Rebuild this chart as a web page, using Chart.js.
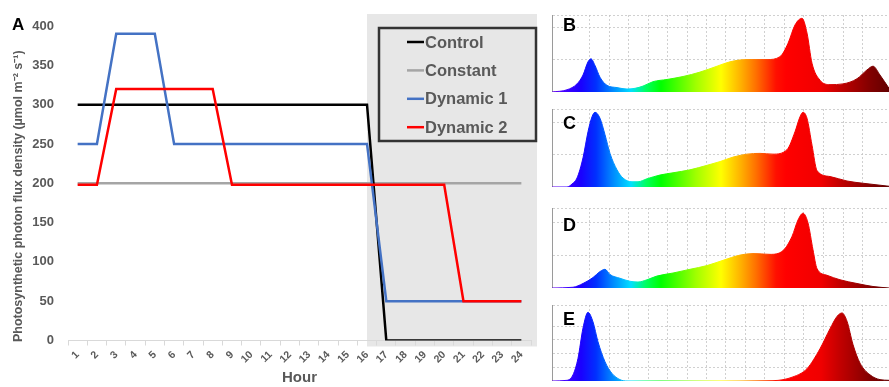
<!DOCTYPE html>
<html><head><meta charset="utf-8">
<script src="https://cdn.jsdelivr.net/npm/chart.js@4.4.0/dist/chart.umd.min.js"></script>
<style>
html,body{margin:0;padding:0;background:#fff;width:889px;height:387px;overflow:hidden;}
canvas{position:absolute;}
.lbl{position:absolute;font-family:"Liberation Sans",Arial,sans-serif;font-weight:bold;color:#000;}
</style></head><body>
<canvas id="main" width="540" height="387" style="left:0;top:0"></canvas>
<canvas id="specB" width="337" height="77" style="left:552px;top:15px"></canvas>
<canvas id="specC" width="337" height="78" style="left:552px;top:109px"></canvas>
<canvas id="specD" width="337" height="80" style="left:552px;top:208px"></canvas>
<canvas id="specE" width="337" height="76" style="left:552px;top:305px"></canvas>
<div class="lbl" style="left:12px;top:16px;font-size:17px;line-height:17px">A</div>
<div class="lbl" style="left:563px;top:16px;font-size:18px;line-height:18px">B</div>
<div class="lbl" style="left:563px;top:114px;font-size:18px;line-height:18px">C</div>
<div class="lbl" style="left:563px;top:216px;font-size:18px;line-height:18px">D</div>
<div class="lbl" style="left:563px;top:310px;font-size:18px;line-height:18px">E</div>
<script>
// ---------- Panel A data ----------
const hours = ['1','2','3','4','5','6','7','8','9','10','11','12','13','14','15','16','17','18','19','20','21','22','23','24'];
const seriesNames = ['Control','Constant','Dynamic 1','Dynamic 2'];
const control  = [300,300,300,300,300,300,300,300,300,300,300,300,300,300,300,300,0,0,0,0,0,0,0,0];
const constant = [200,200,200,200,200,200,200,200,200,200,200,200,200,200,200,200,200,200,200,200,200,200,200,200];
const dynamic1 = [250,250,390,390,390,250,250,250,250,250,250,250,250,250,250,250,50,50,50,50,50,50,50,50];
const dynamic2 = [198,198,320,320,320,320,320,320,198,198,198,198,198,198,198,198,198,198,198,198,50,50,50,50];
const yTicks = [0,50,100,150,200,250,300,350,400];
const darkPeriodStart = '16';
const yTitle = 'Photosynthetic photon flux density (µmol m⁻² s⁻¹)';

// ---------- Spectra data (wavelength nm, relative intensity) ----------
const specB_nm  = [411,426,436,442,447,450,454,459,466,476,486,494,502,512,526,542,559,576,589,606,626,639,647,654,661,666,671,679,689,702,716,726,732,739,748];
const specB_val = [0,3,11,23,41,45,36,20,9,6,4,5,8,14,17,21,27,35,41,44,44,48,66,91,100,80,39,16,10,11,18,30,35,23,5];
const specC_nm  = [411,426,431,436,442,447,451,454,459,464,469,476,482,491,497,506,519,532,549,566,579,592,606,619,632,646,654,659,662,666,671,676,689,706,722,748];
const specC_val = [0,0,4,12,39,74,94,100,92,70,45,23,12,7,7,11,16,19,23,29,34,40,44,45,44,50,74,94,100,92,56,22,14,8,5,1];
const specD_nm  = [411,432,442,452,459,464,469,479,489,497,506,516,532,549,566,582,599,612,629,642,651,657,662,667,672,676,686,699,716,732,748];
const specD_val = [0,1,6,14,22,25,18,13,9,8,11,16,20,25,30,37,44,46,45,50,69,91,100,87,51,26,17,11,6,2,0];
const specE_nm  = [411,426,432,437,442,447,452,457,464,471,479,486,566,632,652,666,679,689,696,701,706,712,719,729,739,748];
const specE_val = [0,1,9,33,77,100,86,57,28,11,2,0,0,0.5,6,18,47,76,94,99,87,53,26,9,2,1];

const FONT = '"Liberation Sans", Arial, sans-serif';
const GREY_TXT = '#595959';

const shadePlugin = {
  id: 'shade',
  beforeDraw(chart) {
    const {ctx, chartArea, scales} = chart;
    const x0 = scales.x.getPixelForValue(hours.indexOf(darkPeriodStart));
    ctx.save();
    ctx.fillStyle = '#e7e7e7';
    ctx.fillRect(x0, chartArea.top - 12, chartArea.right + 6 - x0, chartArea.bottom + 6 - (chartArea.top - 12));
    ctx.restore();
  }
};
const yTitlePlugin = {
  id: 'yTitle',
  afterDraw(chart) {
    const {ctx, chartArea} = chart;
    ctx.save();
    ctx.translate(19, (chartArea.top + chartArea.bottom) / 2 + 13);
    ctx.rotate(-Math.PI / 2);
    ctx.font = 'bold 12.5px ' + FONT;
    ctx.fillStyle = GREY_TXT;
    ctx.textAlign = 'center';
    ctx.textBaseline = 'middle';
    ctx.fillText(yTitle, 0, 0);
    ctx.restore();
  }
};
const legendPlugin = {
  id: 'boxLegend',
  afterDraw(chart) {
    const {ctx} = chart;
    const bx = 379, by = 28, bw = 157, bh = 113;
    ctx.save();
    ctx.fillStyle = '#e7e7e7';
    ctx.fillRect(bx, by, bw, bh);
    ctx.lineWidth = 2.5;
    ctx.strokeStyle = '#333';
    ctx.strokeRect(bx, by, bw, bh);
    ctx.font = 'bold 16.5px ' + FONT;
    ctx.textBaseline = 'middle';
    chart.data.datasets.forEach((ds, i) => {
      const y = 42 + i * 28.4;
      ctx.strokeStyle = ds.borderColor;
      ctx.lineWidth = 2.5;
      ctx.beginPath(); ctx.moveTo(407, y); ctx.lineTo(424, y); ctx.stroke();
      ctx.fillStyle = GREY_TXT;
      ctx.fillText(ds.label, 425, y + 1);
    });
    ctx.restore();
  }
};

new Chart(document.getElementById('main'), {
  type: 'line',
  data: {
    labels: hours,
    datasets: [
      {label: seriesNames[0], data: control,  borderColor: '#000000', order: 3},
      {label: seriesNames[1], data: constant, borderColor: '#a5a5a5', order: 4},
      {label: seriesNames[2], data: dynamic1, borderColor: '#4472c4', order: 2},
      {label: seriesNames[3], data: dynamic2, borderColor: '#ff0000', order: 1}
    ]
  },
  options: {
    responsive: false, animation: false,
    elements: {line: {borderWidth: 2.5, tension: 0}, point: {radius: 0}},
    layout: {padding: {top: 26, right: 9, left: 0, bottom: 0}},
    plugins: {legend: {display: false}, tooltip: {enabled: false}},
    scales: {
      x: {
        type: 'category', offset: true,
        grid: {display: true, drawOnChartArea: false, drawTicks: true, tickLength: 5, color: '#d9d9d9', offset: true},
        border: {color: '#d9d9d9', width: 1},
        ticks: {minRotation: 45, maxRotation: 45, autoSkip: false, padding: 3, color: GREY_TXT, font: {family: FONT, size: 10.5, weight: 'bold'}},
        title: {display: true, text: 'Hour', color: GREY_TXT, font: {family: FONT, size: 15, weight: 'bold'}, padding: {top: 0, bottom: 0}},
        afterFit: s => { s.height = 46.5; }
      },
      y: {
        min: 0, max: 400,
        afterBuildTicks: s => { s.ticks = yTicks.map(v => ({value: v})); },
        grid: {display: false, drawTicks: false},
        border: {display: false},
        ticks: {padding: 14, color: GREY_TXT, font: {family: FONT, size: 13, weight: 'bold'}},
        title: {display: false, text: yTitle},
        afterFit: s => { s.width = 68; }
      }
    }
  },
  plugins: [shadePlugin, legendPlugin, yTitlePlugin]
});

// ---------- Spectra ----------
const spectralStops = [
  [400,'#7a00c0'],[420,'#4b00ff'],[440,'#1a00ff'],[455,'#0030ff'],[470,'#0080ff'],[490,'#00e0ff'],
  [505,'#00ff60'],[520,'#00ff00'],[555,'#a0ff00'],[580,'#ffff00'],[600,'#ffb000'],[615,'#ff7000'],
  [635,'#ff1000'],[645,'#ff0000'],[680,'#f00000'],[700,'#c00000'],[730,'#800000'],[760,'#500000']
];
function spectrumFill(context) {
  const chart = context.chart;
  const {ctx, chartArea, scales} = chart;
  if (!chartArea) return '#f00';
  const l0 = spectralStops[0][0], l1 = spectralStops[spectralStops.length-1][0];
  const x0 = scales.x.getPixelForValue(l0), x1 = scales.x.getPixelForValue(l1);
  const g = ctx.createLinearGradient(x0, 0, x1, 0);
  spectralStops.forEach(([l, c]) => g.addColorStop((l - l0) / (l1 - l0), c));
  return g;
}
function makeSpectrum(id, nm, val, ymax, ystep) {
  new Chart(document.getElementById(id), {
    type: 'line',
    data: {datasets: [{data: nm.map((x, i) => ({x, y: val[i]})), fill: 'origin',
      backgroundColor: spectrumFill, borderColor: spectrumFill, borderWidth: 1,
      cubicInterpolationMode: 'monotone', pointRadius: 0}]},
    options: {
      responsive: false, animation: false,
      layout: {padding: 0},
      plugins: {legend: {display: false}, tooltip: {enabled: false}},
      scales: {
        x: {type: 'linear', min: 411, max: 748,
            ticks: {display: false, stepSize: 19.5},
            grid: {color: '#c4c4c4', drawTicks: false, lineWidth: 0.8},
            border: {display: true, color: '#9a9a9a', dash: [2, 2]}},
        y: {min: 0, max: ymax,
            ticks: {display: false, stepSize: ystep},
            grid: {color: '#c4c4c4', drawTicks: false, lineWidth: 0.8},
            border: {display: true, color: '#9a9a9a', dash: [2, 2]}}
      }
    }
  });
}
makeSpectrum('specB', specB_nm, specB_val, 104.5, 43.5);
makeSpectrum('specC', specC_nm, specC_val, 104.4, 43.5);
makeSpectrum('specD', specD_nm, specD_val, 107, 43.5);
makeSpectrum('specE', specE_nm, specE_val, 110.6, 20);
</script>
</body></html>
